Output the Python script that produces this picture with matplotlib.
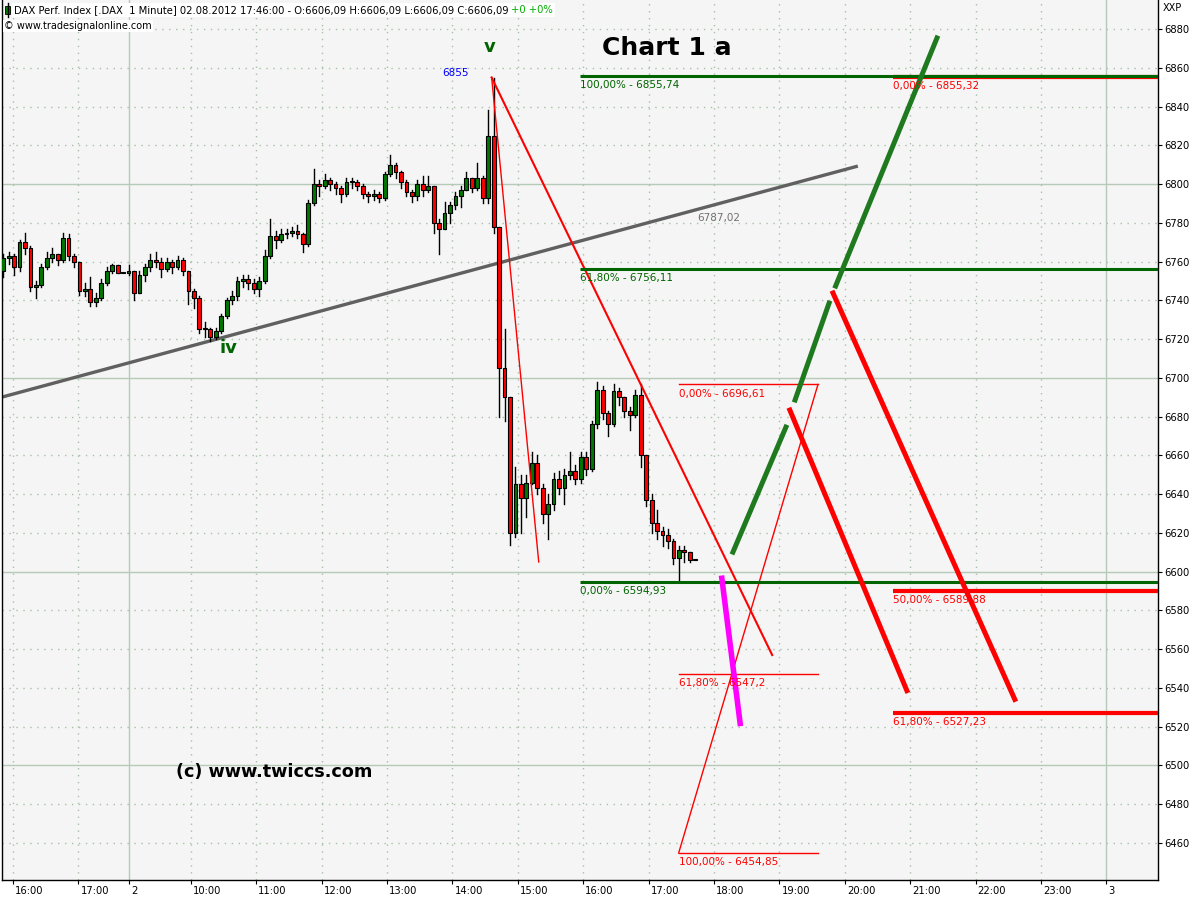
import matplotlib
matplotlib.use('Agg')
import matplotlib.pyplot as plt
from matplotlib.patches import Rectangle
import matplotlib.transforms as mtransforms

plt.rcParams['font.family'] = ['DejaVu Sans']

# ---------------- data ----------------
# time axis: hours on a bar-time scale (16:00 of 01.08 = 0)
first_bar_t = -0.15
bar_minutes = 5
first_open = 6755

closes = [
    6762, 6763, 6757, 6770, 6767, 6747, 6748, 6757, 6762, 6764,
    6761, 6772, 6763, 6760, 6745, 6746, 6739, 6741, 6749, 6755,
    6758, 6754, 6754, 6755, 6744, 6753, 6757, 6761, 6760, 6756,
    6760, 6757, 6761, 6755, 6745, 6741, 6725, 6725, 6721, 6724,
    6732, 6740, 6742, 6750, 6751, 6749, 6746, 6750, 6763, 6773,
    6771, 6774, 6775, 6776, 6774, 6769, 6790, 6800, 6799, 6802,
    6800, 6798, 6795, 6801, 6801, 6799, 6795, 6794, 6795, 6793,
    6805, 6810, 6806, 6801, 6796, 6794, 6800, 6797, 6799, 6780,
    6777, 6785, 6789, 6794, 6797, 6803, 6798, 6803, 6793, 6825,
    6778, 6705, 6690, 6620, 6645, 6638, 6646, 6656, 6643, 6630,
    6635, 6648, 6643, 6650, 6652, 6648, 6659, 6653, 6676, 6694,
    6682, 6676, 6693, 6690, 6683, 6681, 6691, 6660, 6637, 6625,
    6621, 6619, 6616, 6607, 6611, 6610, 6606, 6606]

highs = [
    6764, 6765, 6764, 6771, 6775, 6768, 6750, 6759, 6765, 6767,
    6764, 6775, 6774, 6764, 6760, 6749, 6752, 6744, 6751, 6757,
    6759, 6758, 6754, 6758, 6755, 6755, 6759, 6764, 6765, 6762,
    6762, 6761, 6763, 6762, 6755, 6746, 6742, 6729, 6726, 6726,
    6733, 6741, 6745, 6752, 6753, 6753, 6751, 6752, 6766, 6782,
    6776, 6777, 6777, 6778, 6779, 6775, 6792, 6808, 6802, 6805,
    6803, 6801, 6799, 6803, 6803, 6802, 6800, 6796, 6797, 6796,
    6806, 6815, 6811, 6807, 6802, 6797, 6802, 6804, 6804, 6799,
    6782, 6791, 6791, 6796, 6799, 6806, 6803, 6811, 6804, 6838,
    6855, 6778, 6725, 6690, 6654, 6650, 6650, 6662, 6660, 6645,
    6640, 6651, 6652, 6653, 6662, 6655, 6662, 6662, 6678, 6698,
    6696, 6683, 6697, 6695, 6690, 6685, 6694, 6697, 6660, 6640,
    6632, 6623, 6622, 6617, 6613, 6613, 6609, 6606]

lows = [
    6752, 6759, 6753, 6755, 6764, 6745, 6741, 6747, 6756, 6760,
    6758, 6760, 6761, 6757, 6743, 6742, 6737, 6737, 6740, 6748,
    6754, 6754, 6754, 6753, 6740, 6745, 6750, 6755, 6757, 6752,
    6755, 6754, 6756, 6753, 6738, 6736, 6723, 6721, 6719, 6720,
    6723, 6731, 6738, 6740, 6747, 6746, 6744, 6742, 6749, 6762,
    6767, 6770, 6772, 6773, 6772, 6765, 6768, 6789, 6794, 6798,
    6797, 6795, 6791, 6794, 6798, 6797, 6793, 6791, 6792, 6791,
    6792, 6804, 6803, 6798, 6794, 6791, 6792, 6794, 6796, 6775,
    6764, 6778, 6780, 6787, 6788, 6798, 6796, 6797, 6790, 6790,
    6775, 6680, 6678, 6614, 6618, 6620, 6628, 6645, 6640, 6625,
    6617, 6632, 6640, 6635, 6648, 6645, 6646, 6650, 6652, 6674,
    6679, 6670, 6675, 6686, 6680, 6673, 6680, 6654, 6634, 6620,
    6617, 6613, 6612, 6604, 6595, 6605, 6605, 6606]

tick_pos = [0, 1, 1.78, 2.72, 3.72, 4.72, 5.72, 6.72, 7.72, 8.72,
            9.72, 10.72, 11.72, 12.72, 13.72, 14.72, 15.72, 16.72]
tick_labels = ['16:00', '17:00', '2', '10:00', '11:00', '12:00', '13:00',
               '14:00', '15:00', '16:00', '17:00', '18:00', '19:00',
               '20:00', '21:00', '22:00', '23:00', '3']
day_break_labels = ['2', '3']
price_ticks = list(range(6460, 6881, 20))
major_prices = [6500, 6600, 6700, 6800]

x_range = (-0.168, 17.51)
y_range = (6440.9, 6895.0)

# drawings (time, price)
trend_t = [-0.168, 12.92]
trend_p = [6690.1, 6809.3]
trend_label = ('6787,02', 10.47, 6787.02)

peak_t, peak_p = 7.32, 6855.0
redA_end = (11.61, 6557.0)
redB_end = (8.04, 6605.0)

fib_green_start = 8.67
fib_green_prices = [6855.74, 6756.11, 6594.93]
fib_green_labels = ['100,00% - 6855,74', '61,80% - 6756,11', '0,00% - 6594,93']

fib_thin_span = (10.18, 12.31)
fib_thin_prices = [6696.61, 6547.2, 6454.85]
fib_thin_labels = ['0,00% - 6696,61', '61,80% - 6547,2', '100,00% - 6454,85']

fib_thick_start = 13.46
fib_thick_prices = [6855.32, 6589.88, 6527.23]
fib_thick_labels = ['0,00% - 6855,32', '50,00% - 6589,88', '61,80% - 6527,23']

magenta_t = [10.84, 11.12]
magenta_p = [6596.6, 6521.7]

green_segments = [([11.01, 11.82], [6610.1, 6674.6]),
                  ([11.96, 12.48], [6688.6, 6738.6]),
                  ([12.58, 14.13], [6747.4, 6875.4])]
red_segments = [([11.88, 13.67], [6683.4, 6538.6]),
                ([12.54, 15.32], [6743.8, 6534.1])]

# ---------------- figure ----------------
fig = plt.figure(figsize=(12, 9), dpi=100, facecolor='white')
ax = fig.add_axes([2 / 1200, 20 / 900, 1156 / 1200, 880 / 900])
ax.set_facecolor('#f5f5f5')
ax.set_xlim(*x_range)
ax.set_ylim(*y_range)

dot_col = '#a9bfa9'
solid_col = '#b7cab7'
for p in price_ticks:
    if p in major_prices:
        ax.axhline(p, color=solid_col, lw=1, zorder=0)
    else:
        ax.axhline(p, color=dot_col, lw=1, ls=(0, (1, 4)), zorder=0)
for tp, tl in zip(tick_pos, tick_labels):
    if tl in day_break_labels:
        ax.axvline(tp, color=solid_col, lw=1, zorder=0)
    else:
        ax.axvline(tp, color=dot_col, lw=1, ls=(0, (1, 4)), zorder=0)

# gray trend line
ax.plot(trend_t, trend_p, color='#606060', lw=2.4, zorder=2, solid_capstyle='butt')
ax.annotate(trend_label[0], xy=(trend_label[1], trend_label[2]), xytext=(0, -3),
            textcoords='offset points', ha='left', va='top', fontsize=7.5,
            color='#707070', zorder=6)

# candles
dt = bar_minutes / 60.0
opens = [first_open] + closes[:-1]
body_w = dt * 0.7
for i, (o, c, h, l) in enumerate(zip(opens, closes, highs, lows)):
    t = first_bar_t + i * dt
    hi = max(h, o, c)
    lo = min(l, o, c)
    ax.plot([t, t], [lo, hi], color='black', lw=1.0, zorder=3)
    col = '#007800' if c >= o else '#ff0000'
    bottom = min(o, c)
    height = max(abs(c - o), 0.6)
    ax.add_patch(Rectangle((t - body_w / 2, bottom), body_w, height,
                           facecolor=col, edgecolor='black', lw=0.8, zorder=3.5))

# red lines from the top
ax.plot([peak_t, redA_end[0]], [peak_p, redA_end[1]], color='#ff0000', lw=1.5, zorder=4)
ax.plot([peak_t, redB_end[0]], [peak_p, redB_end[1]], color='#ff0000', lw=1.0, zorder=4)

# green fib
for p, lab in zip(fib_green_prices, fib_green_labels):
    ax.plot([fib_green_start, x_range[1]], [p, p], color='#006400', lw=2.2, zorder=4.2,
            solid_capstyle='butt')
    ax.annotate(lab, xy=(fib_green_start, p), xytext=(0, -3), textcoords='offset points',
                ha='left', va='top', fontsize=7.5, color='#006400', zorder=6)

# thin red fib
for p, lab in zip(fib_thin_prices, fib_thin_labels):
    ax.plot(list(fib_thin_span), [p, p], color='#ff0000', lw=1.0, zorder=4)
    ax.annotate(lab, xy=(fib_thin_span[0], p), xytext=(0, -3), textcoords='offset points',
                ha='left', va='top', fontsize=7.5, color='#ff0000', zorder=6)
ax.plot(list(fib_thin_span), [fib_thin_prices[2], fib_thin_prices[0]], color='#ff0000',
        lw=1.0, zorder=4)

# thick red fib
for p, lab in zip(fib_thick_prices, fib_thick_labels):
    ax.plot([fib_thick_start, x_range[1]], [p, p], color='#ff0000', lw=3.0, zorder=4.1,
            solid_capstyle='butt')
    ax.annotate(lab, xy=(fib_thick_start, p), xytext=(0, -3), textcoords='offset points',
                ha='left', va='top', fontsize=7.5, color='#ff0000', zorder=6)
# green 100% line drawn over the red 0% line
ax.plot([fib_thick_start, x_range[1]], [fib_green_prices[0] + 0.3] * 2, color='#006400',
        lw=2.2, zorder=4.3, solid_capstyle='butt')

# projections
ax.plot(magenta_t, magenta_p, color='#ff00ff', lw=4, zorder=5)
for ts, ps in green_segments:
    ax.plot(ts, ps, color='#1f7a1f', lw=3.6, zorder=5)
for ts, ps in red_segments:
    ax.plot(ts, ps, color='#ff0000', lw=3.6, zorder=5)

# labels on chart
ax.text(7.29, 6870.7, 'v', color='#006400', fontsize=13, fontweight='bold',
        ha='center', va='center', zorder=6)
ax.text(3.29, 6715.4, 'iv', color='#006400', fontsize=13, fontweight='bold',
        ha='center', va='center', zorder=6)
ax.text(6.77, 6857.3, '6855', color='#0000ff', fontsize=7.5, ha='center',
        va='center', zorder=6)
ax.text(10.0, 6870.2, 'Chart 1 a', color='black', fontsize=18, fontweight='bold',
        ha='center', va='center', zorder=6)
ax.text(2.49, 6496.6, '(c) www.twiccs.com', color='black', fontsize=12.7,
        fontweight='bold', ha='left', va='center', zorder=6)

# axes styling
ax.spines['top'].set_visible(False)
for s in ['left', 'right', 'bottom']:
    ax.spines[s].set_color('black')
    ax.spines[s].set_linewidth(1.0)

ax.yaxis.tick_right()
ax.set_yticks(price_ticks)
ax.set_yticklabels([str(p) for p in price_ticks])
ax.tick_params(axis='y', direction='out', length=3, pad=1.5, labelsize=7.2,
               colors='black')
ax.set_xticks(tick_pos)
ax.set_xticklabels(tick_labels, ha='left')
ax.tick_params(axis='x', direction='out', length=3, pad=1.5, labelsize=7.2,
               colors='black')
offset = mtransforms.ScaledTranslation(2 / 100, 0, fig.dpi_scale_trans)
for lab in ax.get_xticklabels():
    lab.set_transform(lab.get_transform() + offset)

# header
fig.add_artist(plt.Line2D([7.5 / 1200, 7.5 / 1200], [1 - 3 / 900, 1 - 17 / 900],
                          color='black', lw=1, transform=fig.transFigure))
fig.add_artist(Rectangle((5 / 1200, 1 - 14 / 900), 5 / 1200, 8 / 900,
                         facecolor='#007800', edgecolor='black', lw=0.6,
                         transform=fig.transFigure))
hdr = fig.text(14 / 1200, 1 - 10 / 900,
               'DAX Perf. Index [.DAX  1 Minute] 02.08.2012 17:46:00 - O:6606,09 '
               'H:6606,09 L:6606,09 C:6606,09 ',
               fontsize=7.2, color='black', ha='left', va='center',
               bbox=dict(facecolor='white', edgecolor='none', pad=1.5))
fig.canvas.draw()
bb = hdr.get_window_extent(fig.canvas.get_renderer())
fig.text(bb.x1 / 1200 - 1 / 1200, 1 - 10 / 900, '+0 +0%', fontsize=7.2, color='#00b000',
         ha='left', va='center',
         bbox=dict(facecolor='white', edgecolor='none', pad=1.5))
fig.text(4 / 1200, 1 - 26 / 900, '\u00a9 www.tradesignalonline.com', fontsize=7.0,
         color='black', ha='left', va='center',
         bbox=dict(facecolor='white', edgecolor='none', pad=1.0))
fig.text(1163 / 1200, 1 - 8 / 900, 'XXP', fontsize=7, color='black', ha='left',
         va='center')

fig.savefig('out.png', dpi=100, facecolor='white')
